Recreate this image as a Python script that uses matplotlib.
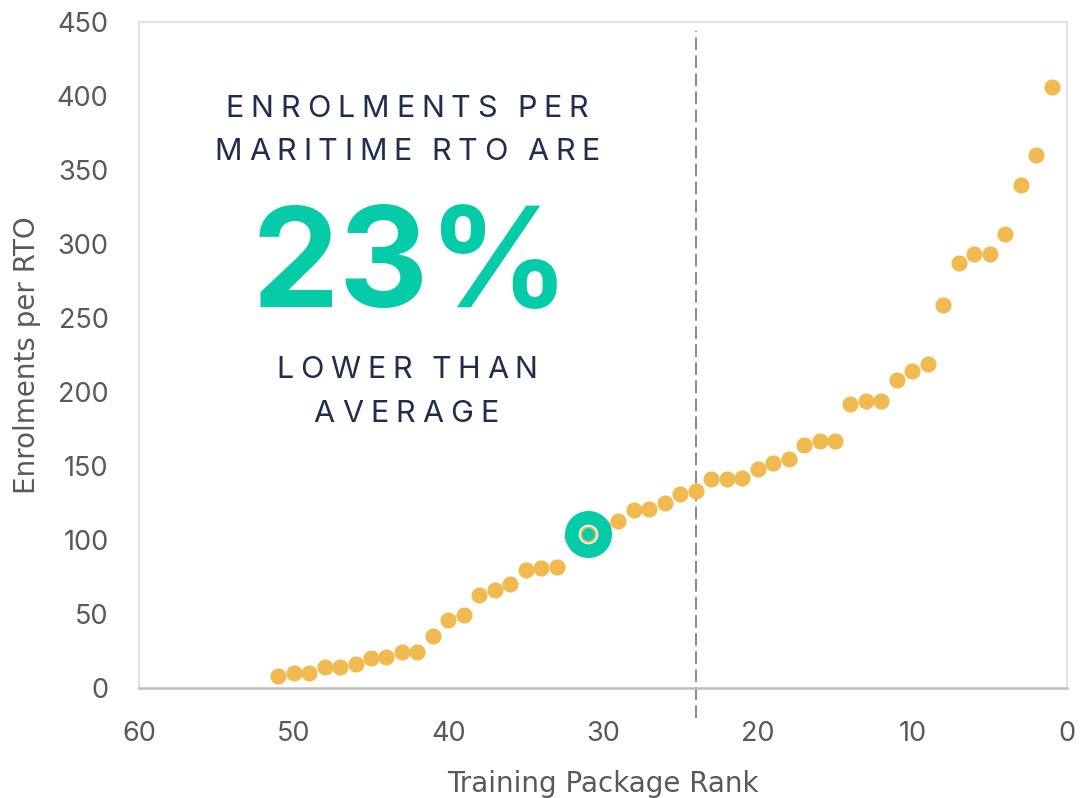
import matplotlib
matplotlib.use("Agg")
import matplotlib.pyplot as plt

# data (rank 1 = highest enrolments per RTO)
ranks = list(range(1, 52))
enrolments = [406, 360, 340, 307, 293, 293, 287, 259, 219, 214,
              208, 194, 194, 192, 167, 167, 164, 155, 152, 148,
              142, 141, 141, 133, 131, 125, 121, 120, 113, 109,
              104, 102, 82, 81, 80, 70, 66, 63, 49, 46,
              35, 24, 24, 21, 20, 16, 14, 14, 10, 10, 8]
maritime_rank = 31
average_rank = 24
x_ticks = [60, 50, 40, 30, 20, 10, 0]
y_ticks = [0, 50, 100, 150, 200, 250, 300, 350, 400, 450]

ORANGE = "#F1BA50"
TEAL = "#05CBA9"
NAVY = "#1F2D4F"
GREY = "#595959"

W, H = 1081, 798
fig = plt.figure(figsize=(W / 100, H / 100), dpi=100)
ax = fig.add_axes([139 / W, 1 - 688 / H, (1067 - 139) / W, (688 - 22) / H])

ax.scatter(ranks, enrolments, s=135, color=ORANGE, linewidths=0, zorder=3)

# highlighted maritime point
mv = enrolments[ranks.index(maritime_rank)]
ax.scatter([maritime_rank], [mv], s=1150, color=TEAL, linewidths=0, zorder=4)
ax.scatter([maritime_rank], [mv], s=200, color="white", linewidths=0, zorder=5)
ax.scatter([maritime_rank], [mv], s=110, color=TEAL, edgecolors=ORANGE,
           linewidths=1.4, zorder=6)

# average line
ax.plot([average_rank, average_rank], [-20, 444], color="#7F7F7F", lw=1.3,
        dashes=(7, 3), clip_on=False, zorder=2)

ax.set_xlim(60, 0)
ax.set_ylim(0, 450)
ax.set_xticks(x_ticks)
ax.set_yticks(y_ticks)
ax.tick_params(length=0, labelsize=19.5, labelcolor=GREY)
ax.tick_params(axis="y", pad=22)
ax.tick_params(axis="x", pad=24)
for lab in ax.get_xticklabels() + ax.get_yticklabels():
    lab.set_family("Inter")

for side in ["left", "top", "right"]:
    ax.spines[side].set_color("#E3E3E3")
    ax.spines[side].set_linewidth(1.5)
ax.spines["bottom"].set_color("#BFBFBF")
ax.spines["bottom"].set_linewidth(1.8)

ax.set_xlabel("Training Package Rank", fontsize=20, color=GREY,
              family="Liberation Sans Narrow", labelpad=16)
ax.set_ylabel("Enrolments per RTO", fontsize=20, color=GREY,
              family="Liberation Sans Narrow", labelpad=11)


def spaced(xc, yb, s, width, **kw):
    # letter-spaced line, stretched to the given width in pixels
    r = fig.canvas.get_renderer()
    widths = []
    for ch in s:
        if ch == " ":
            widths.append(0)
            continue
        t = fig.text(0, 0, ch, **kw)
        widths.append(t.get_window_extent(r).width)
        t.remove()
    n_sp = s.count(" ")
    track = (width - sum(widths)) / (len(s) - 1 + 0.9 * n_sp)
    x = xc - width / 2
    for ch, w in zip(s, widths):
        if ch == " ":
            x += 0.9 * track + track
            continue
        fig.text(x / W, 1 - yb / H, ch, ha="left", va="baseline", **kw)
        x += w + track


style = dict(fontsize=22, color=NAVY, family="Inter")
spaced(407, 117, "ENROLMENTS PER", 363, **style)
spaced(407, 160, "MARITIME RTO ARE", 385, **style)
spaced(407, 378, "LOWER THAN", 261, **style)
spaced(406, 422, "AVERAGE", 185, **style)

fig.text(411 / W, 1 - 307 / H, "23%", ha="center", va="baseline",
         fontsize=100, fontweight="bold", color=TEAL, family="Inter")

fig.savefig("out.png", dpi=100)
